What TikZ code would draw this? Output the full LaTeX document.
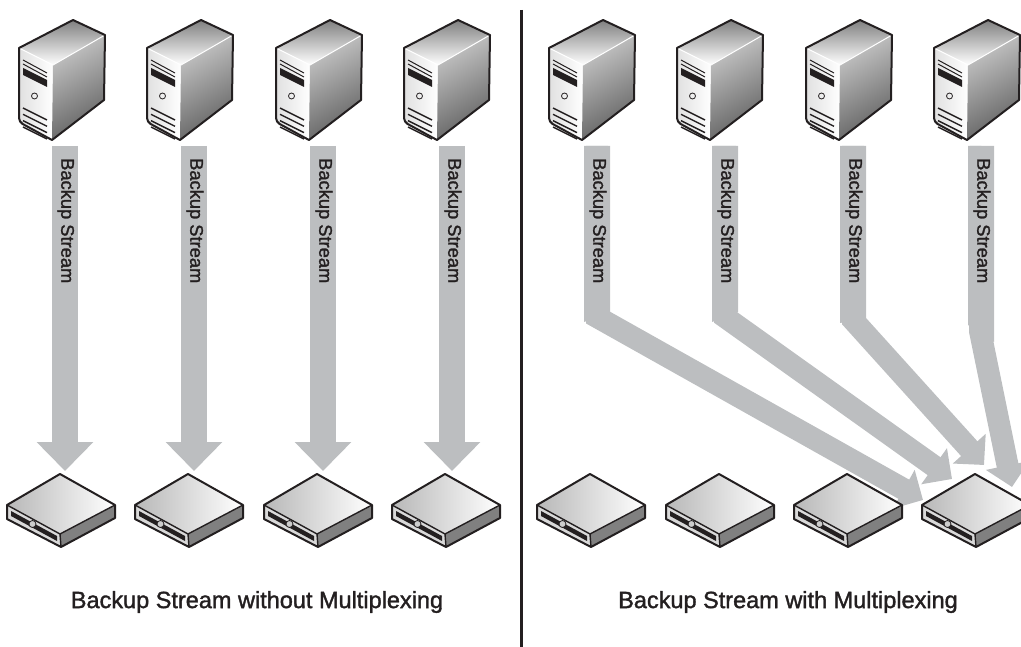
\documentclass[tikz,border=0pt]{standalone}
\usepackage{fontspec}
\setmainfont{Liberation Sans}
\newfontfamily\labelfont[FakeBold=1.5]{Liberation Sans}
\usetikzlibrary{arrows.meta}
\definecolor{streamgrey}{HTML}{BCBEC0}
\definecolor{inkblack}{HTML}{231F20}
\tikzset{
  stream/.style = {draw = streamgrey, line width = 26pt, -{Triangle[width = 55pt, length = 29pt]}},
  bent/.style   = {draw = streamgrey, line width = 22pt, line join = miter, -{Triangle[width = 43pt, length = 22pt]}},
  tag/.style    = {text = inkblack, font = \labelfont\fontsize{23.5}{26}\selectfont, inner sep = 0pt},
  vtag/.style   = {tag, rotate = -90, anchor = west, font = \labelfont\fontsize{18.3}{20}\selectfont},
  edge/.style   = {draw = inkblack, line width = 2pt, line join = round},
  server/.pic   = {
    \shade[top color = black!50, bottom color = white] (19, 48) -- (73, 20) -- (105, 35) -- (53, 65) -- cycle;
    \shade[left color = black!12, right color = white] (19, 48) -- (53, 65) -- (52, 140) -- (19, 122) -- cycle;
    \shade[top color = black!22, bottom color = black!62, shading angle = 30] (53, 65) -- (105, 35) -- (104, 100) -- (52, 140) -- cycle;
    \draw[white, line width = 1pt] (19, 48) -- (53, 65) -- (105, 35);
    \draw[edge] (19, 48) -- (73, 20) -- (105, 35) -- (104, 100) -- (52, 140) [rounded corners = 4pt] -- (19, 122) [sharp corners] -- cycle;
    \draw[inkblack, line width = 1pt] (23, 60) -- (47, 73) (23, 64) -- (47, 77);
    \fill[inkblack] (23, 68) -- (47, 80) -- (47, 87) -- (23, 75) -- cycle;
    \draw[inkblack, line width = 0.8pt] (34.5, 96) circle (3pt);
    \foreach \dy in {0, 6.3, 12.6, 19} {
      \draw[inkblack, line width = 1.4pt] (23, 108 + \dy) -- (47, 120 + \dy);
    }
  },
  storage/.pic  = {
    \shade[left color = black!28, right color = white] (60, 474) -- (7, 505) -- (60, 534) -- (115, 505) -- cycle;
    \fill[black!15] (7, 505) -- (60, 534) -- (60, 547) -- (7, 519) -- cycle;
    \fill[black!50] (60, 534) -- (115, 505) -- (115, 518) -- (61, 547) -- cycle;
    \draw[edge] (60, 474) -- (7, 505) -- (7, 519) -- (61, 547) -- (115, 518) -- (115, 505) -- cycle;
    \draw[edge, line width = 1.4pt] (7, 505) -- (60, 534) -- (115, 505) (60, 534) -- (61, 547);
    \fill[inkblack] (11, 511) -- (57, 536) -- (57, 541) -- (11, 516) -- cycle;
    \draw[fill = black!20, draw = inkblack, line width = 0.8pt] (32.5, 524) circle (3.5pt);
  },
}
\begin{document}
\begin{tikzpicture}[x = 1pt, y = -1pt]
  \useasboundingbox (0, 0) rectangle (1021, 647);

  % ------------------------------------------------------------------------
  % Left side
  \foreach \n/\dx/\cx in {1/0/65, 2/128/194, 3/257/323, 4/385/452} {
    \coordinate (from\n) at (\cx, 146);
    \coordinate (to\n) at (\cx, 471);
    \draw[stream] (from\n) -- (to\n);
    \node[vtag] (lbl\n) at (\cx + 1, 158) {Backup Stream};
    \pic (srv\n) at (\dx, 0) {server};
    \pic (sto\n) at (\dx, 0) {storage};
  }

  % ------------------------------------------------------------------------
  % Right side
  \coordinate (bendA) at (597, 317);
  \coordinate (bendB) at (725, 317);
  \coordinate (bendC) at (853, 320);
  \coordinate (bendD) at (980, 331);
  \coordinate (tipA)  at (923, 500);
  \coordinate (tipB)  at (952, 479);
  \coordinate (tipC)  at (984, 465);
  \coordinate (tipD)  at (1012, 487);

  \foreach \n/\dx/\cx/\yl/\yr in {A/530/597/322/312, B/658/725/322/312, C/787/853/323/318, D/915/981/325/342} {
    \coordinate (from\n) at (\cx, 146);
    \draw[bent] (from\n) -- (bend\n) -- (tip\n);
    \fill[streamgrey] (\cx - 13, 146) -- (\cx - 13, \yl) -- (\cx + 13, \yr) -- (\cx + 13, 146) -- cycle;
    \node[vtag] (lbl\n) at (\cx + 1, 158) {Backup Stream};
    \pic (srv\n) at (\dx, 0) {server};
  }
  \foreach \n/\dx in {E/530, F/659, G/787, H/915} {
    \pic (sto\n) at (\dx, 0) {storage};
  }

  % ------------------------------------------------------------------------
  % Divider and captions
  \coordinate (top) at (521.7, 10);
  \coordinate (bot) at (521.7, 647);
  \draw[inkblack, line width = 3.2pt] (top) -- (bot);

  \node[tag] (capL) at (257, 602) {Backup Stream without Multiplexing};
  \node[tag] (capR) at (788, 602) {Backup Stream with Multiplexing};
\end{tikzpicture}
\end{document}
